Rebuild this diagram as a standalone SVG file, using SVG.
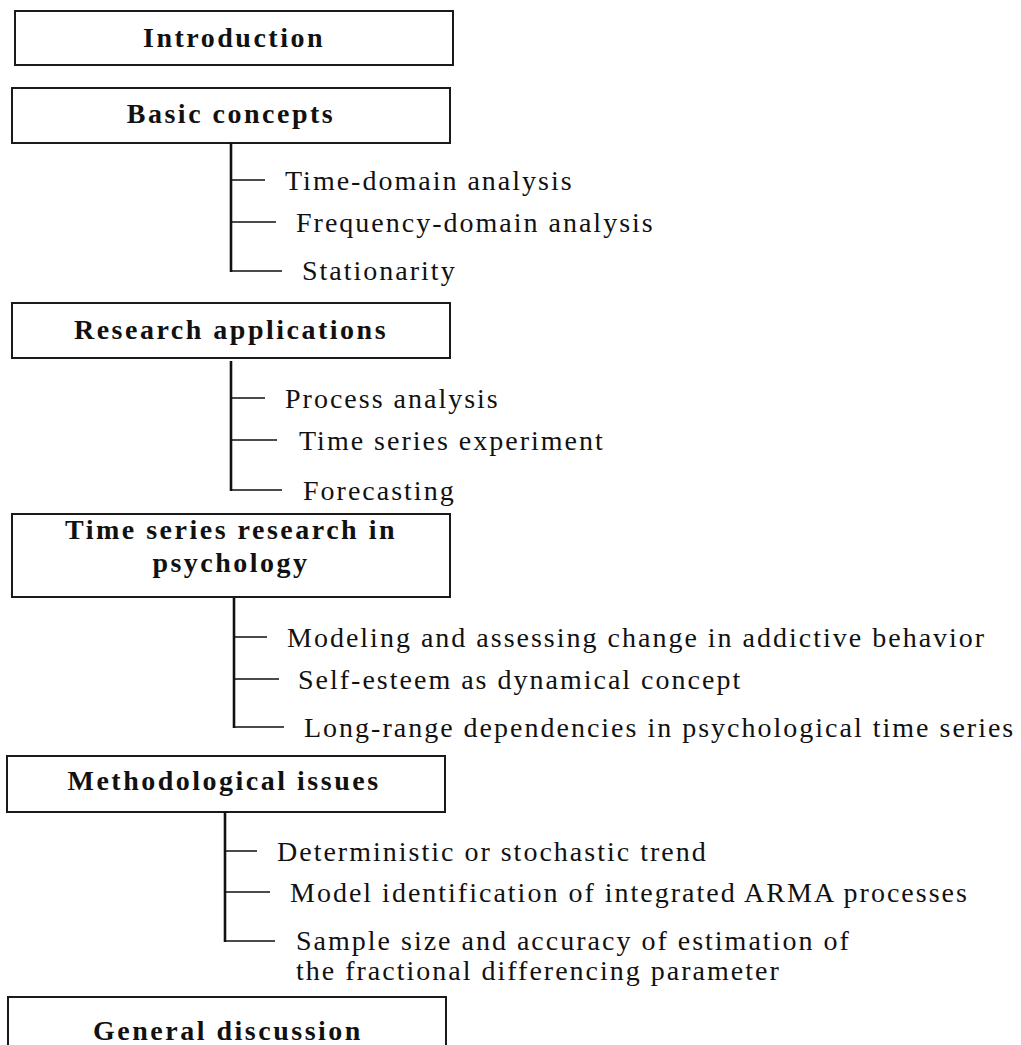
<svg xmlns="http://www.w3.org/2000/svg" width="1021" height="1045" viewBox="0 0 1021 1045">
<style>
.box{fill:#fff;stroke:#1a1a1a;stroke-width:2}
.hd{font-family:"Liberation Serif","Times New Roman",serif;font-weight:bold;font-size:28px;letter-spacing:2.5px;fill:#111;text-anchor:middle}
.it{font-family:"Liberation Serif","Times New Roman",serif;font-size:28px;letter-spacing:2px;fill:#111}
.v{stroke:#111;stroke-width:2.6;fill:none}
.h{stroke:#111;stroke-width:1.6;fill:none}
</style>
<rect width="1021" height="1045" fill="#fff"/>
<g id="introduction"><rect class="box" x="15" y="11" width="438" height="54"/><text class="hd" x="234" y="46.5">Introduction</text></g>
<g id="basic-concepts"><rect class="box" x="12" y="88" width="438" height="55"/><text class="hd" x="231" y="123">Basic concepts</text></g>
<g id="research-applications"><rect class="box" x="12" y="303" width="438" height="55"/><text class="hd" x="231" y="339">Research applications</text></g>
<g id="time-series-research"><rect class="box" x="12" y="514" width="438" height="83"/><text class="hd" x="231" y="539">Time series research in</text><text class="hd" x="231" y="572">psychology</text></g>
<g id="methodological-issues"><rect class="box" x="7" y="756" width="438" height="56"/><text class="hd" x="224" y="790">Methodological issues</text></g>
<g id="general-discussion"><rect class="box" x="8" y="997" width="438" height="56"/><text class="hd" x="228" y="1040">General discussion</text></g>
<g id="connectors">
<path class="v" d="M231 143V272"/>
<path class="h" d="M231 180H265M231 222H276M231 271H282"/>
<path class="v" d="M231 361V491"/>
<path class="h" d="M231 398H265M231 440H277M231 490H282"/>
<path class="v" d="M234 598V728"/>
<path class="h" d="M234 637H267M234 679H279M234 727H284"/>
<path class="v" d="M225 812V942"/>
<path class="h" d="M225 851H257M225 892H270M225 941H275"/>
</g>
<g id="basic-concepts-items">
<text class="it" x="285" y="189.5">Time-domain analysis</text>
<text class="it" x="296" y="231.5">Frequency-domain analysis</text>
<text class="it" x="302" y="279.5">Stationarity</text>
</g>
<g id="research-applications-items">
<text class="it" x="285" y="407.5">Process analysis</text>
<text class="it" x="299" y="449.5">Time series experiment</text>
<text class="it" x="303" y="499.5">Forecasting</text>
</g>
<g id="time-series-research-items">
<text class="it" x="287" y="646.5">Modeling and assessing change in addictive behavior</text>
<text class="it" x="298" y="688.5">Self-esteem as dynamical concept</text>
<text class="it" x="304" y="736.5">Long-range dependencies in psychological time series</text>
</g>
<g id="methodological-issues-items">
<text class="it" x="277" y="860.5">Deterministic or stochastic trend</text>
<text class="it" x="290" y="901.5">Model identification of integrated ARMA processes</text>
<text class="it" x="296" y="949.5">Sample size and accuracy of estimation of</text>
<text class="it" x="296" y="980">the fractional differencing parameter</text>
</g>
</svg>
